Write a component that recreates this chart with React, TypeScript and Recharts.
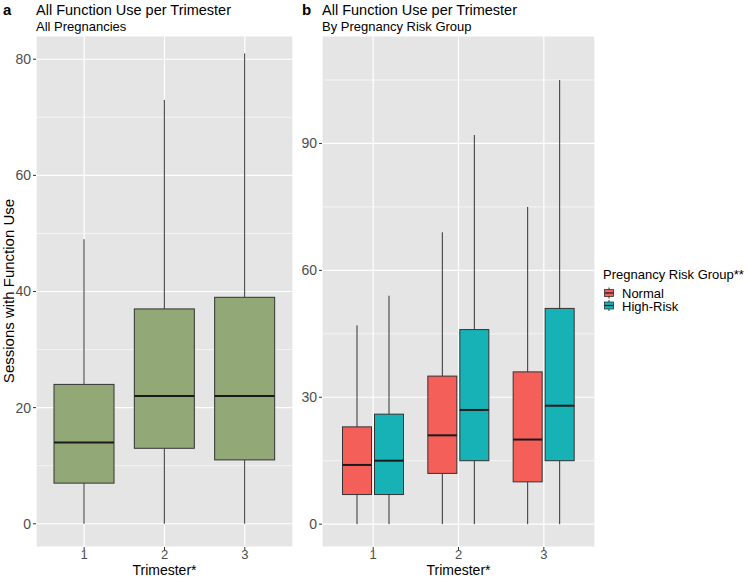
import React from 'react';
import { ComposedChart, Bar, XAxis, YAxis, CartesianGrid } from 'recharts';

const trimesters = ['1', '2', '3'];

// panel a - all pregnancies
const allMin = [0, 0, 0];
const allQ1 = [7, 13, 11];
const allMed = [14, 22, 22];
const allQ3 = [24, 37, 39];
const allMax = [49, 73, 81];

// panel b - normal risk
const normalMin = [0, 0, 0];
const normalQ1 = [7, 12, 10];
const normalMed = [14, 21, 20];
const normalQ3 = [23, 35, 36];
const normalMax = [47, 69, 75];

// panel b - high risk
const highMin = [0, 0, 0];
const highQ1 = [7, 15, 15];
const highMed = [15, 27, 28];
const highQ3 = [26, 46, 51];
const highMax = [54, 92, 105];

const ticksA = [0, 20, 40, 60, 80];
const minorA = [10, 30, 50, 70];
const ticksB = [0, 30, 60, 90];
const minorB = [15, 45, 75, 105];

const rowsA = trimesters.map((t, i) => ({
  t,
  allRange: [allMin[i], allMax[i]],
  allMin: allMin[i], allQ1: allQ1[i], allMed: allMed[i], allQ3: allQ3[i], allMax: allMax[i],
}));

const rowsB = trimesters.map((t, i) => ({
  t,
  normalRange: [normalMin[i], normalMax[i]],
  normalMin: normalMin[i], normalQ1: normalQ1[i], normalMed: normalMed[i], normalQ3: normalQ3[i], normalMax: normalMax[i],
  highRange: [highMin[i], highMax[i]],
  highMin: highMin[i], highQ1: highQ1[i], highMed: highMed[i], highQ3: highQ3[i], highMax: highMax[i],
}));

const GREEN = '#93A877';
const RED = '#F45F5A';
const TEAL = '#17B2B6';
const PANEL = '#E5E5E5';
const FONT = '"Liberation Sans", Arial, sans-serif';

// the bar spans min..max, the rest of the box is placed inside it
const makeBox = (key: string, fill: string) => (props: any) => {
  const { x, y, width, height, payload } = props;
  const lo = payload[key + 'Min'];
  const hi = payload[key + 'Max'];
  const top = Math.min(y, y + height);
  const h = Math.abs(height);
  const py = (v: number) => top + (h * (hi - v)) / (hi - lo);
  const cx = x + width / 2;
  const q1 = py(payload[key + 'Q1']);
  const q3 = py(payload[key + 'Q3']);
  const med = py(payload[key + 'Med']);
  return (
    <g>
      <line x1={cx} x2={cx} y1={py(hi)} y2={q3} stroke="#333" strokeWidth={1} />
      <line x1={cx} x2={cx} y1={q1} y2={py(lo)} stroke="#333" strokeWidth={1} />
      <rect x={x} y={q3} width={width} height={q1 - q3} fill={fill} stroke="#333" strokeWidth={1} />
      <line x1={x} x2={x + width} y1={med} y2={med} stroke="#1a1a1a" strokeWidth={2} />
    </g>
  );
};

const tickStyle = { fill: '#4D4D4D', fontSize: 14, fontFamily: FONT };
const xTickStyle = { fill: '#4D4D4D', fontSize: 13, fontFamily: FONT };

const LegendKey = ({ y, fill }: { y: number; fill: string }) => (
  <g>
    <line x1={609} x2={609} y1={y} y2={y + 11} stroke="#333" />
    <rect x={604.5} y={y + 2} width={9} height={7} fill={fill} stroke="#333" strokeWidth={0.8} />
    <line x1={604.5} x2={613.5} y1={y + 5.5} y2={y + 5.5} stroke="#1a1a1a" strokeWidth={1.2} />
  </g>
);

export default function App() {
  return (
    <div style={{ position: 'absolute', left: 0, top: 0, width: 747, height: 578, background: '#fff', fontFamily: FONT }}>
      <svg width={747} height={578} style={{ position: 'absolute', left: 0, top: 0 }}>
        <g fontFamily={FONT} fill="#000">
          <text x={3} y={15} fontSize={15} fontWeight="bold">a</text>
          <text x={36} y={15} fontSize={14.5}>All Function Use per Trimester</text>
          <text x={36} y={31} fontSize={13}>All Pregnancies</text>
          <text x={302} y={15} fontSize={15} fontWeight="bold">b</text>
          <text x={322} y={15} fontSize={14.5}>All Function Use per Trimester</text>
          <text x={322} y={31} fontSize={13}>By Pregnancy Risk Group</text>
          <text transform="translate(13.5,291) rotate(-90)" textAnchor="middle" fontSize={15}>Sessions with Function Use</text>
          <text x={164.5} y={575} textAnchor="middle" fontSize={14}>Trimester*</text>
          <text x={458.5} y={575} textAnchor="middle" fontSize={14}>Trimester*</text>
          <text x={603} y={279} fontSize={13}>Pregnancy Risk Group**</text>
          <text x={622} y={297.5} fontSize={13}>Normal</text>
          <text x={622} y={311} fontSize={13}>High-Risk</text>
        </g>
        <LegendKey y={287.5} fill={RED} />
        <LegendKey y={300} fill={TEAL} />
      </svg>

      <div style={{ position: 'absolute', left: 0, top: 0 }}>
        <ComposedChart width={300} height={578} data={rowsA} margin={{ top: 36, right: 7, bottom: 0, left: 0 }}>
          <CartesianGrid fill={PANEL} stroke="#fff" strokeWidth={1.2} />
          <CartesianGrid fill="none" stroke="#fff" strokeWidth={0.6} vertical={false} horizontalValues={minorA} />
          <XAxis dataKey="t" height={31} padding={{ left: 8, right: 8 }} axisLine={false}
            tickLine={{ stroke: '#333' }} tickSize={3} tickMargin={0} tick={xTickStyle} />
          <YAxis type="number" width={36} domain={[-4, 84]} ticks={ticksA} allowDataOverflow axisLine={false}
            tickLine={{ stroke: '#333' }} tickSize={3} tickMargin={2} tick={tickStyle} />
          <Bar dataKey="allRange" barSize={60} shape={makeBox('all', GREEN)} isAnimationActive={false} />
        </ComposedChart>
      </div>

      <div style={{ position: 'absolute', left: 300, top: 0 }}>
        <ComposedChart width={300} height={578} data={rowsB} barGap={3} margin={{ top: 36, right: 5, bottom: 0, left: 0 }}>
          <CartesianGrid fill={PANEL} stroke="#fff" strokeWidth={1.2} />
          <CartesianGrid fill="none" stroke="#fff" strokeWidth={0.6} vertical={false} horizontalValues={minorB} />
          <XAxis dataKey="t" height={31} padding={{ left: 8.5, right: 8.5 }} axisLine={false}
            tickLine={{ stroke: '#333' }} tickSize={3} tickMargin={0} tick={xTickStyle} />
          <YAxis type="number" width={22} domain={[-5.4, 115.4]} ticks={ticksB} allowDataOverflow axisLine={false}
            tickLine={{ stroke: '#333' }} tickSize={3} tickMargin={2} tick={tickStyle} />
          <Bar dataKey="normalRange" barSize={29} shape={makeBox('normal', RED)} isAnimationActive={false} />
          <Bar dataKey="highRange" barSize={29} shape={makeBox('high', TEAL)} isAnimationActive={false} />
        </ComposedChart>
      </div>
    </div>
  );
}
